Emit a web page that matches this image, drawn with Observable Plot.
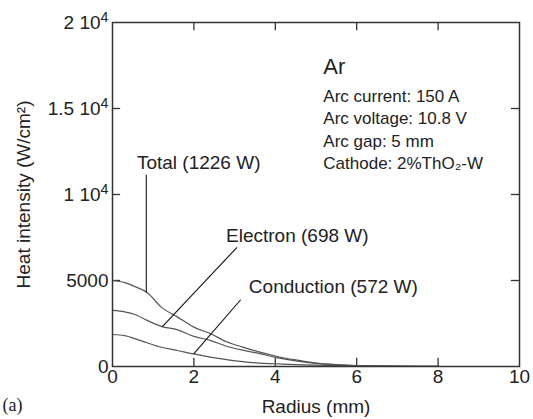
<!DOCTYPE html>
<html>
<head>
<meta charset="utf-8">
<script src="https://cdn.jsdelivr.net/npm/d3@7"></script>
<script src="https://cdn.jsdelivr.net/npm/@observablehq/plot@0.6"></script>
<style>
  html, body { margin: 0; padding: 0; background: #fff; }
  #chart { width: 533px; height: 419px; }
</style>
</head>
<body>
<div id="chart"></div>
<script>
// Radius (mm) sample positions
const radius = [0, 0.3, 0.6, 0.85, 1.2, 1.6, 2.0, 2.4, 2.8, 3.2, 3.6, 4.0, 4.5, 5.0, 5.5, 6.0, 7.0, 8.0];
// Heat intensity (W/cm2)
const totalHeat      = [5000, 4880, 4600, 4300, 3450, 2870, 2290, 1920, 1440, 1130, 850, 610, 380, 200, 110, 55, 20, 8];
const electronHeat   = [3260, 3180, 2980, 2680, 2330, 2130, 1750, 1520, 1180, 950, 760, 530, 330, 180, 95, 45, 15, 5];
const conductionHeat = [1860, 1800, 1580, 1380, 1120, 930, 730, 550, 400, 280, 200, 160, 110, 75, 50, 30, 12, 4];

const seriesNames = ["Total (1226 W)", "Electron (698 W)", "Conduction (572 W)"];
const seriesValues = [totalHeat, electronHeat, conductionHeat];

// Series label anchors (data units, text starts here)
const labelX = [0.6, 2.79, 3.35];
const labelY = [11860, 7616, 4610];

// Leader lines from label to curve (data units)
const leaderX1 = [0.83, 3.06, 3.15];
const leaderY1 = [11150, 6930, 3880];
const leaderX2 = [0.83, 1.22, 1.99];
const leaderY2 = [4300, 2300, 720];

// Info block
const infoLines = ["Ar", "Arc current: 150 A", "Arc voltage: 10.8 V", "Arc gap: 5 mm", "Cathode: 2%ThO\u2082-W"];
const infoY = [17442, 15698, 14419, 13081, 11802];
const infoSize = [22, 17, 17, 17, 17];
const infoX = 5.18;

// Axes
const xTicks = [0, 2, 4, 6, 8, 10];
const yTicks = [0, 5000, 10000, 15000, 20000];
const yTickLabels = ["0", "5000", "1 10^4", "1.5 10^4", "2 10^4"];
const innerXTicks = [2, 4, 6, 8];
const innerYTicks = [5000, 10000, 15000];

const curves = seriesNames.flatMap((name, i) =>
  radius.map((r, j) => ({series: name, r, v: seriesValues[i][j]})));
const labels = seriesNames.map((name, i) => ({name, x: labelX[i], y: labelY[i]}));
const leaders = leaderX1.map((x1, i) => ({x1, y1: leaderY1[i], x2: leaderX2[i], y2: leaderY2[i]}));
const info = infoLines.map((t, i) => ({t, y: infoY[i], s: infoSize[i]}));

const plot = Plot.plot({
  width: 533,
  height: 419,
  marginLeft: 112,
  marginRight: 14,
  marginTop: 22,
  marginBottom: 53,
  style: {fontFamily: "'Liberation Sans', Arial, Helvetica, sans-serif", fontSize: "18px", color: "#222", background: "#fff"},
  x: {domain: [0, 10]},
  y: {domain: [0, 20000]},
  marks: [
    Plot.axisX({ticks: xTicks, tickSize: 0, tickPadding: 3, fontSize: 19, label: "Radius (mm)", labelAnchor: "center", labelOffset: 46, labelArrow: "none"}),
    Plot.axisY({ticks: yTicks, tickSize: 0, tickPadding: 4, fontSize: 19,
      tickFormat: d => yTickLabels[yTicks.indexOf(d)],
      label: "Heat intensity (W/cm\u00b2)", labelAnchor: "center", labelOffset: 96, labelArrow: "none"}),
    // inward ticks
    Plot.ruleX(innerXTicks, {x: d => d, y1: 0, y2: 480, stroke: "#333", strokeWidth: 1.3}),
    Plot.ruleX(innerXTicks, {x: d => d, y1: 20000, y2: 19520, stroke: "#333", strokeWidth: 1.3}),
    Plot.ruleY(innerYTicks, {y: d => d, x1: 0, x2: 0.2, stroke: "#333", strokeWidth: 1.3}),
    Plot.ruleY(innerYTicks, {y: d => d, x1: 10, x2: 9.8, stroke: "#333", strokeWidth: 1.3}),
    Plot.line(curves, {x: "r", y: "v", z: "series", stroke: "#555", strokeWidth: 1.2, curve: "monotone-x"}),
    Plot.link(leaders, {x1: "x1", y1: "y1", x2: "x2", y2: "y2", stroke: "#111", strokeWidth: 1.1}),
    Plot.text(labels, {x: "x", y: "y", text: "name", textAnchor: "start", fontSize: 19, fill: "#222"}),
    Plot.text(info, {x: () => infoX, y: "y", text: "t", textAnchor: "start", fontSize: "s", fill: "#222"}),
    Plot.text(["(a)"], {frameAnchor: "bottom-left", dx: -110, dy: 44, textAnchor: "start", fontSize: 18, fontFamily: "'Liberation Serif', 'Times New Roman', serif", fill: "#222"}),
    Plot.frame({stroke: "#333", strokeWidth: 1.5})
  ]
});

// Render "10^4" tick labels with a real superscript
d3.select(plot).selectAll("text").each(function() {
  const el = d3.select(this);
  if (el.selectAll("tspan").size() > 0) {
    el.selectAll("tspan").each(function() { fixSup(d3.select(this)); });
  } else {
    fixSup(el);
  }
});
function fixSup(node) {
  const t = node.text();
  if (!t.includes("^")) return;
  const [base, sup] = t.split("^");
  node.text(null);
  node.append("tspan").text(base);
  node.append("tspan").attr("dy", "-0.45em").attr("font-size", "0.75em").text(sup);
}
document.getElementById("chart").appendChild(plot);
</script>
</body>
</html>
